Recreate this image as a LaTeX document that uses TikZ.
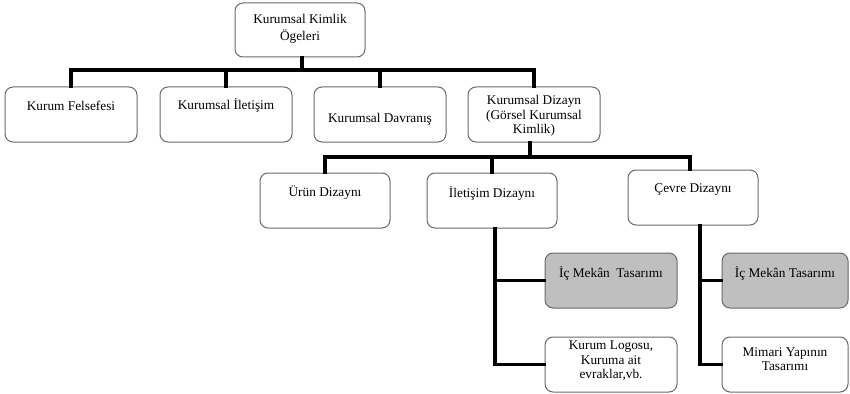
\documentclass[tikz,border=0pt]{standalone}
\usepackage{fontspec}
\setmainfont{Liberation Serif}
\definecolor{boxgray}{RGB}{191,191,191}
\definecolor{edgegray}{RGB}{105,105,105}
\begin{document}
\begin{tikzpicture}[x=1pt,y=-1pt,
  box/.style={draw=edgegray, line width=1pt, rounded corners=8pt, fill=white, minimum width=132pt, minimum height=55pt, inner sep=0pt},
  graybox/.style={box, fill=boxgray},
  txt/.style={font=\fontsize{13.3}{14.5}\selectfont, align=center, inner sep=0pt},
  conn/.style={line width=3.5pt, line cap=rect}]
\useasboundingbox (0,0) rectangle (850,393);
% boxes
\node[box, minimum width=130pt, minimum height=54pt] (top) at (300,30) {};
\node[box] (kf) at (71,114.5) {};
\node[box] (ki) at (226,114.5) {};
\node[box] (kdv) at (380,114.5) {};
\node[box] (kd) at (534,114.5) {};
\node[box, minimum width=130pt] (ur) at (325,200.5) {};
\node[box, minimum width=130pt] (il) at (492,200.5) {};
\node[box, minimum width=130pt] (cv) at (693,197.5) {};
\node[graybox] (im1) at (611,280.5) {};
\node[box] (lg) at (611,364.5) {};
\node[graybox, minimum width=126pt] (im2) at (785,280.5) {};
\node[box, minimum width=126pt] (mm) at (785,364.5) {};
% texts
\node[txt, font=\fontsize{13.3}{16.5}\selectfont] (ttop) at (300,29) {Kurumsal Kimlik\\Ögeleri};
\node[txt] (tkf) at (71,106) {Kurum Felsefesi};
\node[txt] (tki) at (226,105) {Kurumsal İletişim};
\node[txt] (tkdv) at (380,119) {Kurumsal Davranış};
\node[txt] (tkd) at (534,116) {Kurumsal Dizayn\\(Görsel Kurumsal\\Kimlik)};
\node[txt] (tur) at (325,193) {Ürün Dizaynı};
\node[txt] (til) at (492,193) {İletişim Dizaynı};
\node[txt] (tcv) at (693,190) {Çevre Dizaynı};
\node[txt] (tim1) at (611,273) {İç Mekân~ Tasarımı};
\node[txt] (tlg) at (611,361) {Kurum Logosu,\\Kuruma ait\\evraklar,vb.};
\node[txt] (tim2) at (785,273) {İç Mekân Tasarımı};
\node[txt] (tmm) at (785,359) {Mimari Yapının\\Tasarımı};
% bus coordinates
\coordinate (bus1) at (302,70);
\coordinate (bus2) at (530,157);
% connectors level 1
\draw[conn] (top.south -| bus1) -- (bus1);
\draw[conn] (kf.north) -- (kf.north |- bus1) -- (kd.north |- bus1) -- (kd.north);
\draw[conn] (ki.north) -- (ki.north |- bus1);
\draw[conn] (kdv.north) -- (kdv.north |- bus1);
% connectors level 2
\draw[conn] (kd.south -| bus2) -- (bus2);
\draw[conn] (ur.north) -- (ur.north |- bus2) -- ([xshift=-3pt]cv.north |- bus2) -- ([xshift=-3pt]cv.north);
\draw[conn] (il.north) -- (il.north |- bus2);
% connectors level 3
\draw[conn] ([xshift=3pt]il.south) -- ([xshift=3pt]il.south |- lg.west) -- (lg.west);
\draw[conn] ([xshift=3pt]il.south |- im1.west) -- (im1.west);
\draw[conn] ([xshift=7pt]cv.south) -- ([xshift=7pt]cv.south |- mm.west) -- (mm.west);
\draw[conn] ([xshift=7pt]cv.south |- im2.west) -- (im2.west);
\end{tikzpicture}
\end{document}
